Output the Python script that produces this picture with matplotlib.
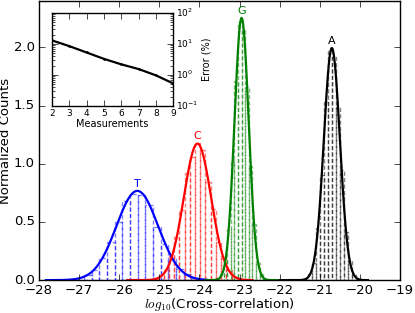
import numpy as np
import matplotlib.pyplot as plt

# histogram bin heights (normalized counts)
labels = ["T", "C", "G", "A"]
colors = ["b", "r", "g", "k"]
bin_start = [-27.83, -25.80, -23.85, -22.00]
bin_width = [0.191, 0.13, 0.09, 0.10]

hist_T = [0.0, 0.0, 0.0, 0.005, 0.015, 0.04, 0.09, 0.19, 0.33, 0.50, 0.68, 0.74,
          0.73, 0.65, 0.46, 0.31, 0.18, 0.10, 0.05, 0.02, 0.005]
hist_C = [0, 0, 0, 0, 0.005, 0.01, 0.04, 0.09, 0.21, 0.37, 0.60, 0.92, 1.06, 1.18,
          1.12, 0.84, 0.61, 0.33, 0.19, 0.09, 0.03, 0.01, 0.005, 0]
hist_G = [0, 0, 0.005, 0.01, 0.05, 0.17, 0.44, 1.03, 1.71, 2.22, 2.15, 1.66, 0.98,
          0.48, 0.15, 0.05, 0.01, 0.005, 0, 0]
hist_A = [0, 0, 0, 0, 0, 0.005, 0.01, 0.05, 0.15, 0.45, 0.90, 1.53, 1.97, 1.92,
          1.49, 0.95, 0.41, 0.17, 0.04, 0.01, 0.005, 0]
hists = [hist_T, hist_C, hist_G, hist_A]

# gaussian fit parameters
fit_mu = [-25.55, -24.05, -22.95, -20.70]
fit_sigma = [0.52, 0.34, 0.177, 0.20]

# inset: error vs number of measurements
meas = [2, 3, 4, 5, 6, 7, 8, 9]
err = [13.0, 8.5, 5.3, 3.3, 2.2, 1.55, 0.97, 0.53]

plt.style.use("classic")
plt.rcParams["lines.dashed_pattern"] = [3.0, 1.6]
fig = plt.figure(figsize=(4.15, 3.13), dpi=100, facecolor="white")
ax = fig.add_axes([0.094, 0.105, 0.870, 0.892])

for lab, c, x0, w, h, mu, sg in zip(labels, colors, bin_start, bin_width, hists,
                                    fit_mu, fit_sigma):
    h = np.array(h, dtype=float)
    edges = x0 + w * np.arange(len(h))
    ax.bar(edges, h, width=w, align="edge", fill=False, edgecolor=c,
           linestyle="--", linewidth=1.0, alpha=0.5)
    xs = np.linspace(x0, x0 + w * len(h), 400)
    ys = np.exp(-0.5 * ((xs - mu) / sg) ** 2) / (sg * np.sqrt(2 * np.pi))
    ax.plot(xs, ys, color=c, lw=1.6)
    ax.text(mu, ys.max() + 0.02, lab, color=c, ha="center", va="bottom", fontsize=8)

ax.set_xlim(-28, -19)
ax.set_ylim(0, 2.4)
ax.set_xticks(np.arange(-28, -18, 1))
ax.set_yticks([0.0, 0.5, 1.0, 1.5, 2.0])
ax.tick_params(labelsize=9.5, pad=3)
ax.set_xlabel("$log_{10}$(Cross-correlation)", fontsize=9.5, labelpad=-1)
ax.set_ylabel("Normalized Counts", fontsize=9.5, labelpad=1)

ins = fig.add_axes([0.125, 0.661, 0.293, 0.298])
ins.semilogy(meas, err, color="k", lw=1.6, marker=".", markersize=2.5)
ins.set_xlim(2, 9)
ins.set_ylim(0.1, 100)
ins.set_xticks(range(2, 10))
ins.yaxis.tick_right()
ins.yaxis.set_label_position("right")
ins.yaxis.set_ticks_position("both")
ins.tick_params(labelsize=6.5, pad=2)
ins.tick_params(axis="y", which="both", labelleft=False, labelright=True)
ins.set_xlabel("Measurements", fontsize=7, labelpad=1)
ins.set_ylabel("Error (%)", fontsize=7, labelpad=2)

fig.savefig("out.png", dpi=100, facecolor="white")
